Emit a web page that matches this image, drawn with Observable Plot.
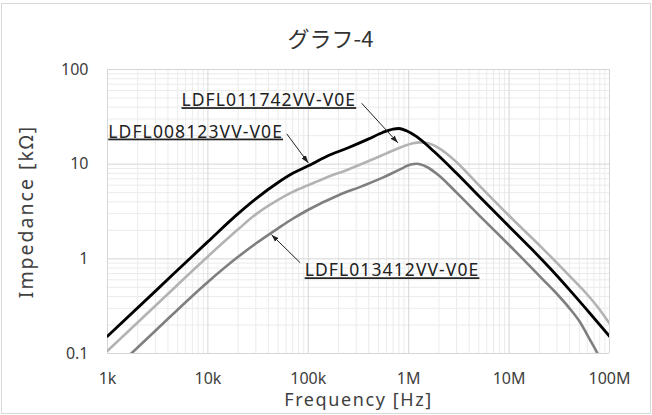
<!DOCTYPE html>
<html><head><meta charset="utf-8">
<script src="https://cdn.jsdelivr.net/npm/d3@7"></script>
<script src="https://cdn.jsdelivr.net/npm/@observablehq/plot@0.6"></script>
<style>
body{margin:0;background:#fff;}
#chart{width:652px;height:415px;}
</style></head><body><div id="chart"></div>
<script>
// Frequency [Hz] and impedance [kΩ] for each curve
const freqBlack = [1e3, 3e3, 1e4, 2e4, 3e4, 5e4, 7e4, 1e5, 1.5e5, 2.5e5, 4e5, 5.5e5, 7e5, 8e5, 9.5e5, 1.2e6, 1.8e6, 3e6, 5e6, 1e7, 1.64e7, 2.6e7, 4e7, 6.5e7, 1e8];
const zBlack    = [0.152, 0.456, 1.52, 3.0, 4.3, 6.4, 8.0, 9.6, 12.0, 14.9, 18.5, 21.6, 23.5, 23.8, 22.5, 19.5, 13.5, 8.0, 4.6, 2.2, 1.3, 0.78, 0.47, 0.26, 0.152];

const freqLight = [1e3, 3e3, 1e4, 2e4, 3e4, 5e4, 7e4, 1e5, 1.5e5, 2.5e5, 4e5, 6e5, 8.5e5, 1.1e6, 1.3e6, 1.6e6, 2e6, 3e6, 5e6, 1e7, 2.14e7, 4e7, 6e7, 8e7, 1e8];
const zLight    = [0.107, 0.32, 1.06, 2.05, 2.95, 4.2, 5.1, 6.0, 7.2, 8.8, 10.8, 13.0, 15.2, 16.6, 17.0, 16.5, 14.8, 10.5, 6.0, 2.85, 1.3, 0.66, 0.42, 0.29, 0.207];

const freqDark  = [1e3, 3e3, 1e4, 2e4, 3e4, 5e4, 7e4, 1e5, 2e5, 3.5e5, 5.5e5, 8e5, 1.05e6, 1.2e6, 1.5e6, 2e6, 3e6, 5e6, 1e7, 1.31e7, 2e7, 2.8e7, 4e7, 5e7, 6.5e7, 7.6e7, 8.5e7];
const zDark     = [0.058, 0.174, 0.57, 1.05, 1.45, 2.1, 2.65, 3.3, 4.7, 5.9, 7.2, 8.7, 9.9, 10.1, 9.4, 7.6, 5.0, 2.9, 1.4, 1.05, 0.66, 0.46, 0.3, 0.22, 0.135, 0.1, 0.075];

const seriesNames  = ["black", "light", "dark"];
const seriesColors = ["#151515", "#b3b3b3", "#7f7f7f"];

// axis ticks
const xMajor = [1e3, 1e4, 1e5, 1e6, 1e7, 1e8];
const xTickLabels = ["1k", "10k", "100k", "1M", "10M", "100M"];
const yMajor = [0.1, 1, 10, 100];
const yTickLabels = ["0.1", "1", "10", "100"];

// annotations (data space)
const labelTexts  = ["LDFL011742VV-V0E", "LDFL008123VV-V0E", "LDFL013412VV-V0E"];
const labelFreq   = [3.0e5, 5.6e4, 9.2e4];
const labelZ      = [47, 21.9, 0.75];
const labelAnchor = ["end", "end", "start"];
const arrowFrom = [[3.4e5, 44], [6.1e4, 20.9], [8.3e4, 0.91]];
const arrowTo   = [[7.8e5, 16.8], [1.0e5, 10.3], [4.3e4, 1.8]];

const title = "グラフ-4";
const xTitle = "Frequency [Hz]";
const yTitle = "Impedance [kΩ]";

// build tables
const lines = [];
[[freqBlack, zBlack], [freqLight, zLight], [freqDark, zDark]].forEach(([fs, zs], k) => {
  fs.forEach((f, i) => lines.push({series: seriesNames[k], f, z: zs[i]}));
});
const minor = (lo, hi) => {
  const out = [];
  for (let d = lo; d < hi * 0.999; d *= 10) for (let m = 2; m <= 9; m++) out.push(d * m);
  return out;
};
const xMinor = minor(1e3, 1e8);
const yMinor = minor(0.1, 100);
const labels = labelTexts.map((t, i) => ({t, f: labelFreq[i], z: labelZ[i], a: labelAnchor[i]}));
const arrows = arrowFrom.map((p, i) => ({x1: p[0], y1: p[1], x2: arrowTo[i][0], y2: arrowTo[i][1]}));
const xFmt = new Map(xMajor.map((d, i) => [d, xTickLabels[i]]));
const yFmt = new Map(yMajor.map((d, i) => [d, yTickLabels[i]]));

const font = "'Noto Sans', sans-serif";

const svg = Plot.plot({
  width: 652, height: 415,
  marginLeft: 107, marginRight: 43, marginTop: 69, marginBottom: 62,
  x: {type: "log", domain: [1e3, 1e8]},
  y: {type: "log", domain: [0.1, 100]},
  color: {domain: seriesNames, range: seriesColors},
  style: {fontFamily: font, color: "#404040", background: "#fff", overflow: "visible"},
  marks: [
    Plot.gridX(xMinor, {stroke: "#ebebeb", strokeOpacity: 1}),
    Plot.gridY(yMinor, {stroke: "#ebebeb", strokeOpacity: 1}),
    Plot.gridX(xMajor, {stroke: "#d6d6d6", strokeOpacity: 1}),
    Plot.gridY(yMajor, {stroke: "#d6d6d6", strokeOpacity: 1}),
    Plot.axisX(xMajor, {tickSize: 0, tickPadding: 19, tickFormat: d => xFmt.get(d), label: null, fontSize: 16, fill: "#404040"}),
    Plot.axisY(yMajor, {tickSize: 0, tickPadding: 19, tickFormat: d => yFmt.get(d), label: null, fontSize: 16, fill: "#404040"}),
    Plot.line(lines.filter(d => d.series === "light"), {x: "f", y: "z", stroke: "series", strokeWidth: 2.6, curve: "monotone-x", clip: true}),
    Plot.line(lines.filter(d => d.series === "dark"), {x: "f", y: "z", stroke: "series", strokeWidth: 2.6, curve: "monotone-x", clip: true}),
    Plot.line(lines.filter(d => d.series === "black"), {x: "f", y: "z", stroke: "series", strokeWidth: 2.8, curve: "monotone-x", clip: true}),
    Plot.link(arrows, {x1: "x1", y1: "y1", x2: "x2", y2: "y2", stroke: "#222", strokeWidth: 1, markerEnd: "arrow"}),
    Plot.text(labels.filter(d => d.a === "end"), {x: "f", y: "z", text: "t", textAnchor: "end", fontSize: 17.5, fill: "#222", fontFamily: font}),
    Plot.text(labels.filter(d => d.a === "start"), {x: "f", y: "z", text: "t", textAnchor: "start", fontSize: 17.5, fill: "#222", fontFamily: font}),
    Plot.text([title], {frameAnchor: "top", lineAnchor: "middle", dx: -28, dy: -30, fontSize: 22, fill: "#333", fontFamily: "'Noto Sans CJK JP', sans-serif"}),
    Plot.text([xTitle], {frameAnchor: "bottom", lineAnchor: "middle", textAnchor: "middle", dx: 0, dy: 47, fontSize: 18, fill: "#404040", fontFamily: font}),
    Plot.text([yTitle], {frameAnchor: "left", lineAnchor: "middle", textAnchor: "middle", dx: -81, rotate: -90, fontSize: 19.5, fill: "#404040", fontFamily: font})
  ]
});

// underline + spacing for annotation labels; filled arrowheads; outer chart border
const s = d3.select(svg);
s.selectAll("text").filter(function(){ return /^LDFL/.test(this.textContent); })
  .style("text-decoration", "underline").style("letter-spacing", "1.1px");
s.selectAll("text").filter(function(){ return this.textContent === xTitle; })
  .style("letter-spacing", "1.6px");
s.selectAll("text").filter(function(){ return this.textContent === yTitle; })
  .style("letter-spacing", "2px");
s.selectAll("marker").attr("markerWidth", 15).attr("markerHeight", 15);
s.selectAll("marker path").attr("fill", "#222").attr("stroke", "none")
  .attr("d", "M-7,-2.4L0,0L-7,2.4Z");
s.append("rect").attr("x", 1.5).attr("y", 3.5).attr("width", 649).attr("height", 410)
  .attr("fill", "none").attr("stroke", "#d9d9d9");
document.getElementById("chart").appendChild(svg);
</script>
</body></html>
